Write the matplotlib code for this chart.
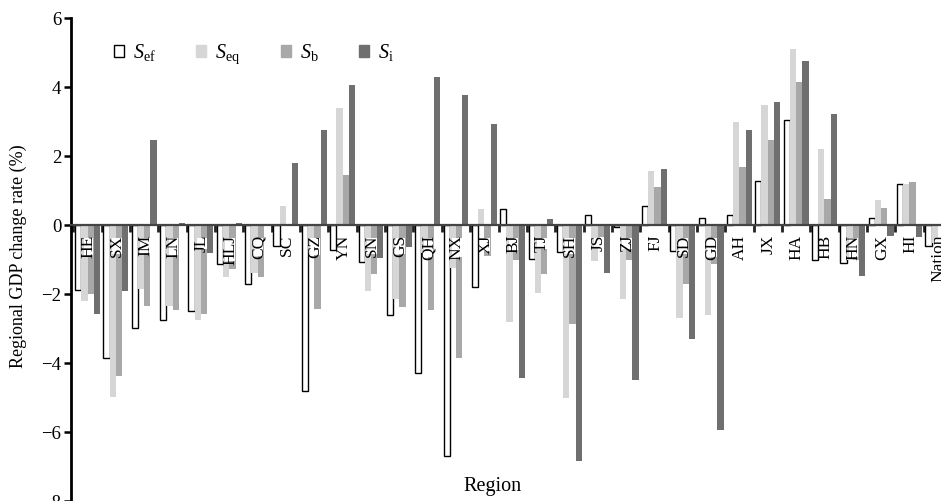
import numpy as np
import matplotlib
matplotlib.use("Agg")
import matplotlib.pyplot as plt
from matplotlib.patches import Patch

nan = np.nan
regions = ['HE', 'SX', 'IM', 'LN', 'JL', 'HLJ', 'CQ', 'SC', 'GZ', 'YN', 'SN', 'GS', 'QH', 'NX', 'XJ',
           'BJ', 'TJ', 'SH', 'JS', 'ZJ', 'FJ', 'SD', 'GD', 'AH', 'JX', 'HA', 'HB', 'HN', 'GX', 'HI', 'Nation']

S_ef = [-1.87, -3.84, -2.98, -2.75, -2.48, -1.12, -1.71, -0.60, -4.81, -0.72, -1.06, -2.61, -4.28, -6.70, -1.79,
        0.46, -0.97, -0.77, 0.31, -0.05, 0.56, -0.74, 0.22, 0.31, 1.29, 3.06, -1.01, -1.09, 0.22, 1.21, -0.60]
S_eq = [-2.19, -4.97, -1.84, -2.33, -2.75, -1.50, -1.38, 0.55, -0.80, 3.41, -1.90, -2.15, -0.80, -1.24, 0.46,
        -2.80, -1.95, -5.02, -1.04, -2.15, 1.57, -2.68, -2.59, 2.99, 3.50, 5.12, 2.22, -1.00, 0.72, 1.19, -0.50]
S_b = [-1.98, -4.36, -2.33, -2.46, -2.56, -1.26, -1.50, 0.03, -2.43, 1.45, -1.40, -2.37, -2.46, -3.86, -0.90,
       -1.00, -1.40, -2.85, -0.34, -1.00, 1.11, -1.71, -1.11, 1.69, 2.47, 4.15, 0.75, -1.00, 0.51, 1.25, nan]
S_i = [-2.56, -1.90, 2.46, 0.08, -0.80, 0.08, 0.00, 1.81, 2.75, 4.06, -0.95, -0.63, 4.30, 3.77, 2.95,
       -4.44, 0.19, -6.84, -1.37, -4.47, 1.64, -3.29, -5.94, 2.75, 3.57, 4.76, 3.24, -1.48, -0.30, -0.34, nan]

series_labels = [r'$\mathit{S}_{\mathrm{ef}}$', r'$\mathit{S}_{\mathrm{eq}}$',
                 r'$\mathit{S}_{\mathrm{b}}$', r'$\mathit{S}_{\mathrm{i}}$']
yticks = [-8, -6, -4, -2, 0, 2, 4, 6]

plt.rcParams['font.family'] = ['Liberation Serif', 'DejaVu Serif']
plt.rcParams['mathtext.fontset'] = 'custom'
plt.rcParams['mathtext.rm'] = 'Liberation Serif'
plt.rcParams['mathtext.it'] = 'Liberation Serif:italic'

W, H = 941, 501
fig = plt.figure(figsize=(W / 100, H / 100), dpi=100)
ax = fig.add_axes([71 / W, -0.0006, 1 - 71 / W, 0.9641])

x = np.arange(len(regions)) + 0.5
bw = 0.22
colors = ['white', '#d6d6d6', '#a8a8a8', '#6f6f6f']
edges = ['black', 'none', 'none', 'none']
data = [S_ef, S_eq, S_b, S_i]
for k, (vals, c, e) in enumerate(zip(data, colors, edges)):
    ax.bar(x + (k - 1.5) * bw, vals, width=bw, color=c, edgecolor=e,
           linewidth=1.0 if k == 0 else 0, zorder=2)

for xi, name in zip(x, regions):
    ax.text(xi + 0.03, -0.27, name, rotation=90, ha='center', va='top', fontsize=12.5,
            bbox=dict(facecolor='white', edgecolor='none', pad=-2.2), zorder=3)

ax.set_xlim(-0.085, 30.614)
ax.set_ylim(-8, 6)
ax.set_yticks(yticks)
ax.set_yticklabels([('\u2212%d' % -t) if t < 0 else '%d' % t for t in yticks], fontsize=13.5)
ax.set_xticks(np.arange(0, 31))
ax.set_xticklabels([])
ax.tick_params(axis='x', direction='out', length=5, width=2, color='#222222')
ax.tick_params(axis='y', direction='out', length=5, width=1.8, color='black', pad=2)

for s in ['top', 'right']:
    ax.spines[s].set_visible(False)
ax.spines['left'].set_linewidth(2.0)
ax.spines['bottom'].set_position(('data', 0))
ax.spines['bottom'].set_color('#444444')
ax.spines['bottom'].set_linewidth(1.6)
ax.spines['bottom'].set_zorder(4)

fig.text(18.5 / W, 1 - 256 / H, 'Regional GDP change rate (%)', rotation=90,
         ha='center', va='center', fontsize=13)
fig.text(492 / W, 1 - 487 / H, 'Region', ha='center', va='center', fontsize=14.5)

handles = [Patch(facecolor=c, edgecolor=('black' if k == 0 else c), linewidth=1.0)
           for k, c in enumerate(colors)]
ax.legend(handles, series_labels, loc='center left', bbox_to_anchor=(114 / W, 1 - 54 / H),
          bbox_transform=fig.transFigure, ncol=4, frameon=False, fontsize=14.5,
          handlelength=0.5, handleheight=0.5, handletextpad=0.45, columnspacing=2.0,
          borderpad=0, borderaxespad=0)

fig.savefig('out.png', dpi=100)
